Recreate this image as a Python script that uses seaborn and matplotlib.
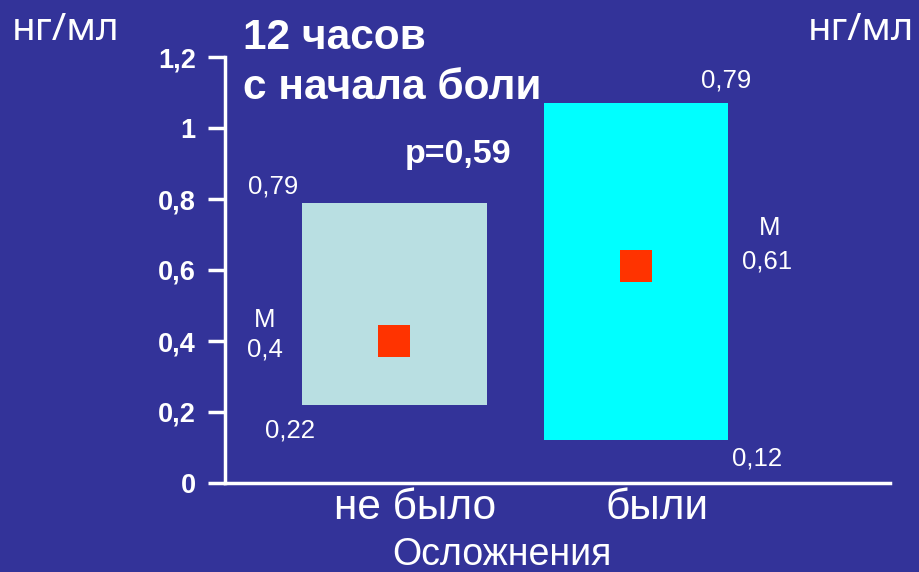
import numpy as np
import pandas as pd
import matplotlib
matplotlib.use("Agg")
import matplotlib.pyplot as plt
import seaborn as sns

# --- data -----------------------------------------------------------------
categories = ["не было", "были"]
lower = [0.22, 0.12]
upper = [0.79, 1.07]
median = [0.40, 0.61]
lower_labels = ["0,22", "0,12"]
upper_labels = ["0,79", "0,79"]
median_labels = ["0,4", "0,61"]
yticks = [0, 0.2, 0.4, 0.6, 0.8, 1.0, 1.2]
ytick_labels = ["0", "0,2", "0,4", "0,6", "0,8", "1", "1,2"]
p_value = "p=0,59"

BG = "#333399"
box_colors = ["#B9DFE2", "#00FFFF"]
MED = "#FF3300"
FONT = ["Liberation Sans", "DejaVu Sans"]
UNIT_FONT = ["Noto Sans", "DejaVu Sans"]

sns.set_theme(style="white")
plt.rcParams["font.family"] = FONT

fig = plt.figure(figsize=(9.2, 5.72), dpi=100, facecolor=BG)
ax = fig.add_axes([225 / 920, 89 / 572, 665 / 920, 426 / 572], facecolor=BG)

df = pd.DataFrame({"group": categories, "low": lower, "high": upper, "med": median})
df["span"] = df["high"] - df["low"]

# interquartile boxes as floating bars
for i, row in df.iterrows():
    sns.barplot(data=df.iloc[[i]], x="group", y="span", order=categories,
                bottom=row["low"], color=box_colors[i], saturation=1,
                width=0.764, edgecolor=box_colors[i], linewidth=0, ax=ax)

# medians
sns.stripplot(data=df, x="group", y="med", order=categories, jitter=False,
              marker="s", size=23, color=MED, linewidth=0, ax=ax, zorder=5)

ax.set_xlim(-0.70, 2.05)
ax.set_ylim(0, 1.2)
ax.set_yticks(yticks)
ax.set_yticklabels(ytick_labels, fontsize=19.5, fontweight="bold", color="white")
ax.set_xticks(range(len(categories)))
ax.set_xticklabels([])
ax.tick_params(axis="y", length=12, width=2.5, color="white", pad=9, left=True)
ax.tick_params(axis="x", length=0)
ax.set_xlabel("")
ax.set_ylabel("")
for side in ["top", "right"]:
    ax.spines[side].set_visible(False)
for side in ["left", "bottom"]:
    ax.spines[side].set_color("white")
    ax.spines[side].set_linewidth(2.5)
ax.grid(False)

# category names under the axis
for i, name in enumerate(categories):
    ax.annotate(name, xy=(i, 0), xycoords=("data", "axes fraction"),
                xytext=(21, -25), textcoords="offset pixels",
                fontsize=30.5, color="white", ha="center", va="center")

# value annotations
small = dict(fontsize=18.5, color="white", ha="center", va="center")
ax.text(-0.502, 0.834, upper_labels[0], **small)
ax.text(-0.432, 0.149, lower_labels[0], **small)
ax.text(-0.535, 0.459, "M", **small)
ax.text(-0.535, 0.375, median_labels[0], **small)
ax.text(1.374, 1.135, upper_labels[1], **small)
ax.text(1.502, 0.068, lower_labels[1], **small)
ax.text(1.552, 0.718, "M", **small)
ax.text(1.543, 0.623, median_labels[1], **small)
ax.text(0.262, 0.924, p_value, fontsize=24.5, fontweight="bold", color="white",
        ha="center", va="center")

# titles and units
fig.text(243 / 920, 1 - 38 / 572, "12 часов", fontsize=30.5, fontweight="bold",
         color="white", ha="left", va="center")
fig.text(243 / 920, 1 - 88 / 572, "с начала боли", fontsize=30.5, fontweight="bold",
         color="white", ha="left", va="center")
fig.text(12 / 920, 1 - 30 / 572, "нг/мл", fontsize=28, color="white",
         family=UNIT_FONT, ha="left", va="center")
fig.text(914 / 920, 1 - 30 / 572, "нг/мл", fontsize=27.5, color="white",
         family=UNIT_FONT, ha="right", va="center")
fig.text(502 / 920, 1 - 555 / 572, "Осложнения", fontsize=27, color="white",
         ha="center", va="center")

fig.savefig("out.png", dpi=100, facecolor=BG)
